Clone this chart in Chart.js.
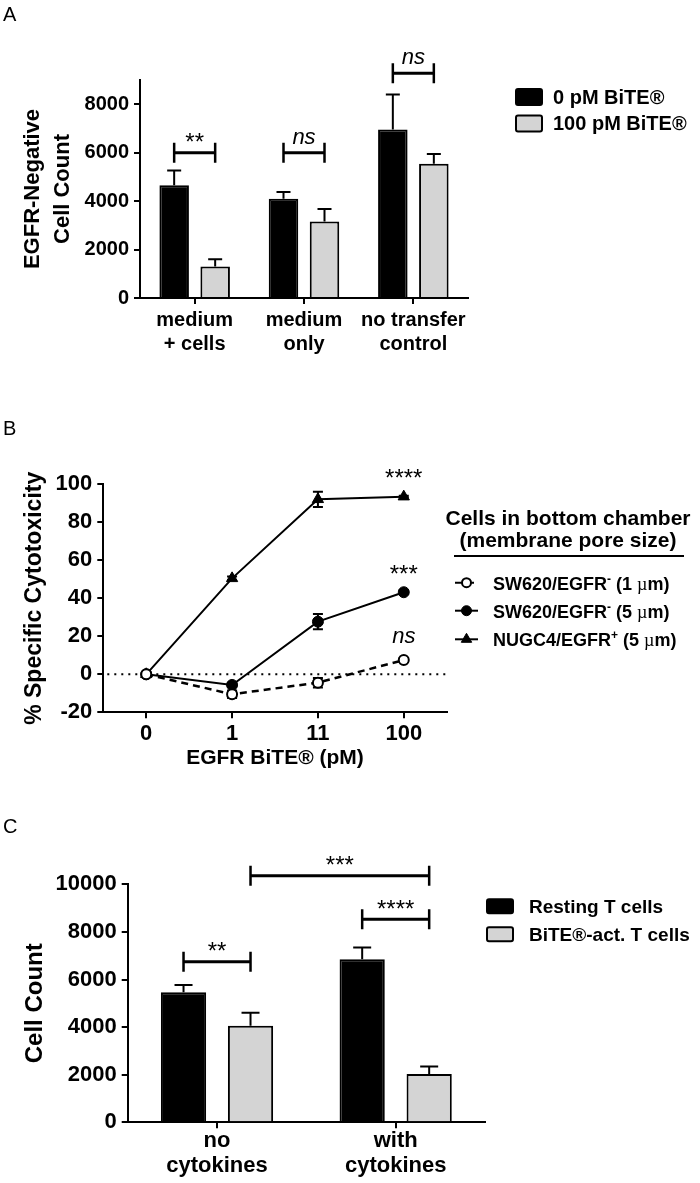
<!doctype html>
<html lang="en">
<head>
<meta charset="utf-8">
<title>EGFR BiTE transwell figure</title>
<script src="https://cdn.jsdelivr.net/npm/chart.js@4.4.1/dist/chart.umd.min.js"></script>
<style>
    body { margin: 0; background: #fff; }
    #page { position: relative; width: 700px; height: 1183px; }
    canvas { position: absolute; left: 0; }
</style>
</head>
<body>
<div id="page">
    <canvas id="chartA" width="700" height="390" style="top:0"></canvas>
    <canvas id="chartB" width="700" height="390" style="top:390px"></canvas>
    <canvas id="chartC" width="700" height="403" style="top:780px"></canvas>
</div>

<script>
// ---- panel A ----
const groupsA = [['medium', '+ cells'], ['medium', 'only'], ['no transfer', 'control']];
const seriesA = ['0 pM BiTE®', '100 pM BiTE®'];
const zeroPmA = [4650, 4100, 6960];
const zeroPmSdA = [610, 280, 1440];
const hundredPmA = [1300, 3160, 5540];
const hundredPmSdA = [300, 510, 410];
const ticksA = [0, 2000, 4000, 6000, 8000];
const sigA = [
    {from: [0, 0], to: [1, 0], y: 6000, text: '**'},
    {from: [0, 1], to: [1, 1], y: 6000, text: 'ns'},
    {from: [0, 2], to: [1, 2], y: 9280, text: 'ns'},
];

// ---- panel B ----
const dosesB = ['0', '1', '11', '100'];
const seriesB = ['SW620/EGFR- (1 µm)', 'SW620/EGFR- (5 µm)', 'NUGC4/EGFR+ (5 µm)'];
const sw1umB = [0, -10.5, -4.4, 7.5];
const sw1umSdB = [1, 2, 2.5, 1];
const sw5umB = [0, -5.6, 27.7, 43.2];
const sw5umSdB = [1, 1, 4, 1];
const nugcB = [0, 50.5, 92.1, 93.5];
const nugcSdB = [1, 1, 4, 0.5];
const ticksB = [-20, 0, 20, 40, 60, 80, 100];
const sigB = [
    {dataset: 0, index: 3, text: 'ns'},
    {dataset: 1, index: 3, text: '***'},
    {dataset: 2, index: 3, text: '****'},
];

// ---- panel C ----
const groupsC = [['no', 'cytokines'], ['with', 'cytokines']];
const seriesC = ['Resting T cells', 'BiTE®-act. T cells'];
const restingC = [5460, 6850];
const restingSdC = [310, 490];
const activatedC = [4060, 2030];
const activatedSdC = [545, 310];
const ticksC = [0, 2000, 4000, 6000, 8000, 10000];
const sigC = [
    {from: [0, 0], to: [1, 0], y: 6750, text: '**'},
    {from: [0, 1], to: [1, 1], y: 8530, text: '****'},
    {from: [1, 0], to: [1, 1], y: 10360, text: '***'},
];

const FONT = "'Liberation Sans', Arial, Helvetica, sans-serif";
const GREY = '#d4d4d4';
Chart.defaults.font.family = FONT;
Chart.defaults.color = '#000';

// draw text so that its ink is centred on (x, cy)
function inkText(ctx, text, x, cy, font) {
    ctx.font = font;
    ctx.textAlign = 'center';
    ctx.textBaseline = 'alphabetic';
    const m = ctx.measureText(text);
    ctx.fillText(text, x, cy + (m.actualBoundingBoxAscent - m.actualBoundingBoxDescent) / 2);
}

function sigFont(text) {
    return text === 'ns' ? 'italic 22px ' + FONT : '24px ' + FONT;
}

const panelLetter = {
    id: 'panelLetter',
    afterDraw(chart, args, opts) {
        if (!opts.text) return;
        const ctx = chart.ctx;
        ctx.save();
        ctx.fillStyle = '#000';
        ctx.font = '20px ' + FONT;
        ctx.textAlign = 'left';
        ctx.textBaseline = 'alphabetic';
        ctx.fillText(opts.text, opts.x, opts.y);
        ctx.restore();
    }
};

const errorBars = {
    id: 'errorBars',
    draw(chart, opts) {
        const ctx = chart.ctx, y = chart.scales.y;
        chart.data.datasets.forEach((ds, i) => {
            if (!ds.sd) return;
            const meta = chart.getDatasetMeta(i);
            ctx.save();
            ctx.strokeStyle = '#000';
            ctx.lineWidth = opts.width;
            meta.data.forEach((el, j) => {
                const v = ds.data[j], e = ds.sd[j];
                const top = y.getPixelForValue(v + e);
                const bottom = opts.both ? y.getPixelForValue(v - e) : el.y;
                ctx.beginPath();
                ctx.moveTo(el.x, top);
                ctx.lineTo(el.x, bottom);
                ctx.moveTo(el.x - opts.cap, top);
                ctx.lineTo(el.x + opts.cap, top);
                if (opts.both) {
                    ctx.moveTo(el.x - opts.cap, bottom);
                    ctx.lineTo(el.x + opts.cap, bottom);
                }
                ctx.stroke();
            });
            ctx.restore();
        });
    },
    beforeDatasetsDraw(chart, args, opts) {
        if (opts.cap && opts.behind) this.draw(chart, opts);
    },
    afterDatasetsDraw(chart, args, opts) {
        if (opts.cap && !opts.behind) this.draw(chart, opts);
    }
};

const sigBrackets = {
    id: 'sigBrackets',
    afterDraw(chart, args, opts) {
        if (!opts.items) return;
        const ctx = chart.ctx, y = chart.scales.y;
        ctx.save();
        ctx.strokeStyle = '#000';
        ctx.fillStyle = '#000';
        opts.items.forEach(b => {
            const x1 = chart.getDatasetMeta(b.from[0]).data[b.from[1]].x;
            const x2 = chart.getDatasetMeta(b.to[0]).data[b.to[1]].x;
            const py = y.getPixelForValue(b.y);
            ctx.lineWidth = 3;
            ctx.beginPath();
            ctx.moveTo(x1, py);
            ctx.lineTo(x2, py);
            ctx.stroke();
            ctx.lineWidth = 2.5;
            ctx.beginPath();
            ctx.moveTo(x1, py - 10);
            ctx.lineTo(x1, py + 10);
            ctx.moveTo(x2, py - 10);
            ctx.lineTo(x2, py + 10);
            ctx.stroke();
            inkText(ctx, b.text, (x1 + x2) / 2, py - 15, sigFont(b.text));
        });
        ctx.restore();
    }
};

const pointLabels = {
    id: 'pointLabels',
    afterDraw(chart, args, opts) {
        if (!opts.items) return;
        const ctx = chart.ctx;
        ctx.save();
        ctx.fillStyle = '#000';
        opts.items.forEach(p => {
            const el = chart.getDatasetMeta(p.dataset).data[p.index];
            inkText(ctx, p.text, el.x, el.y - 23, sigFont(p.text));
        });
        ctx.restore();
    }
};

const zeroLine = {
    id: 'zeroLine',
    beforeDatasetsDraw(chart, args, opts) {
        if (!opts.on) return;
        const ctx = chart.ctx, area = chart.chartArea;
        const py = chart.scales.y.getPixelForValue(0);
        ctx.save();
        ctx.strokeStyle = '#000';
        ctx.lineWidth = 2;
        ctx.setLineDash([2, 5]);
        ctx.beginPath();
        ctx.moveTo(area.left + 4, py);
        ctx.lineTo(area.right, py);
        ctx.stroke();
        ctx.restore();
    }
};

const boxLegend = {
    id: 'boxLegend',
    afterDraw(chart, args, opts) {
        if (!opts.rows) return;
        const ctx = chart.ctx;
        ctx.save();
        chart.data.datasets.forEach((ds, i) => {
            const cy = opts.rows[i];
            ctx.fillStyle = ds.backgroundColor;
            ctx.strokeStyle = '#000';
            ctx.lineWidth = 2;
            ctx.beginPath();
            ctx.roundRect(opts.x, cy - opts.h / 2, opts.w, opts.h, 2);
            ctx.fill();
            ctx.stroke();
            ctx.fillStyle = '#000';
            ctx.font = 'bold ' + opts.size + 'px ' + FONT;
            ctx.textAlign = 'left';
            ctx.textBaseline = 'middle';
            ctx.fillText(ds.label, opts.textX, cy + 1);
        });
        ctx.restore();
    }
};

// legend of panel B: title, underline, then line + marker + rich text per series
const lineLegend = {
    id: 'lineLegend',
    afterDraw(chart, args, opts) {
        if (!opts.rows) return;
        const ctx = chart.ctx;
        ctx.save();
        ctx.fillStyle = '#000';
        ctx.strokeStyle = '#000';
        inkText(ctx, 'Cells in bottom chamber', opts.titleX, opts.titleY[0], 'bold 21px ' + FONT);
        inkText(ctx, '(membrane pore size)', opts.titleX, opts.titleY[1], 'bold 21px ' + FONT);
        ctx.lineWidth = 2;
        ctx.beginPath();
        ctx.moveTo(opts.ruleX[0], opts.ruleY);
        ctx.lineTo(opts.ruleX[1], opts.ruleY);
        ctx.stroke();
        chart.data.datasets.forEach((ds, i) => {
            const cy = opts.rows[i];
            ctx.save();
            ctx.lineWidth = 2;
            ctx.setLineDash(ds.borderDash || []);
            ctx.beginPath();
            ctx.moveTo(opts.x, cy);
            ctx.lineTo(opts.x + 23, cy);
            ctx.stroke();
            ctx.restore();
            ctx.fillStyle = ds.pointBackgroundColor;
            ctx.strokeStyle = '#000';
            ctx.lineWidth = ds.pointBorderWidth;
            Chart.helpers.drawPoint(ctx, {pointStyle: ds.pointStyle, radius: ds.pointRadius - 0.5, borderWidth: ds.pointBorderWidth, rotation: 0}, opts.x + 11.5, cy);
            // text runs
            let x = opts.textX;
            ctx.fillStyle = '#000';
            ctx.textAlign = 'left';
            ctx.textBaseline = 'alphabetic';
            opts.runs[i].forEach(r => {
                ctx.font = r[1];
                ctx.fillText(r[0], x, cy + 7 - (r[2] || 0));
                x += ctx.measureText(r[0]).width;
            });
        });
        ctx.restore();
    }
};

Chart.register(panelLetter, errorBars, sigBrackets, pointLabels, zeroLine, boxLegend, lineLegend);

function axisStyle(size, pad) {
    return {
        grid: {display: true, drawOnChartArea: false, offset: false, color: '#000', lineWidth: 2, tickLength: 6},
        border: {display: true, color: '#000', width: 2},
        ticks: {color: '#000', font: {size: size, weight: 'bold', lineHeight: 1.15}, padding: pad, maxRotation: 0, autoSkip: false},
    };
}

function titleStyle(text, size, lineHeight, pad) {
    return {display: true, text: text, color: '#000', font: {size: size, weight: 'bold', lineHeight: lineHeight}, padding: pad};
}

const plainNumber = v => String(v);

// ---------------- A ----------------
const xA = axisStyle(20, 4);
xA.ticks.font.lineHeight = 1.2;
xA.afterFit = s => { s.height = 92; };
const yA = axisStyle(20, 5);
yA.min = 0;
yA.max = 9000;
yA.ticks.callback = plainNumber;
yA.afterBuildTicks = s => { s.ticks = ticksA.map(v => ({value: v})); };
yA.afterFit = s => { s.width = 140; };
yA.title = titleStyle(['EGFR-Negative', 'Cell Count'], 22, 30 / 22, {top: 18, bottom: 0});

new Chart(document.getElementById('chartA'), {
    type: 'bar',
    data: {
        labels: groupsA,
        datasets: [
            {label: seriesA[0], data: zeroPmA, sd: zeroPmSdA, backgroundColor: '#000', borderColor: '#000', borderWidth: 2, categoryPercentage: 0.75, barPercentage: 0.72},
            {label: seriesA[1], data: hundredPmA, sd: hundredPmSdA, backgroundColor: GREY, borderColor: '#000', borderWidth: 2, categoryPercentage: 0.75, barPercentage: 0.72},
        ],
    },
    options: {
        responsive: false,
        animation: false,
        events: [],
        layout: {padding: {top: 80, right: 232, left: 0, bottom: 0}},
        plugins: {
            legend: {display: false},
            tooltip: {enabled: false},
            panelLetter: {text: 'A', x: 3, y: 21},
            errorBars: {cap: 7, width: 2},
            sigBrackets: {items: sigA},
            boxLegend: {rows: [97, 123.5], x: 516, w: 26, h: 16, textX: 553, size: 20},
        },
        scales: {x: xA, y: yA},
    },
});

// ---------------- B ----------------
const xB = axisStyle(22, 3);
xB.offset = true;
xB.afterFit = s => { s.height = 67.7; };
xB.title = titleStyle('EGFR BiTE® (pM)', 21, 1.2, {top: 0, bottom: 9});
const yB = axisStyle(22, 5);
yB.min = -20;
yB.max = 100;
yB.ticks.callback = plainNumber;
yB.afterBuildTicks = s => { s.ticks = ticksB.map(v => ({value: v})); };
yB.afterFit = s => { s.width = 103.3; };
yB.title = titleStyle('% Specific Cytotoxicity', 23, 1.2, {top: 21, bottom: 0});

const bold18 = 'bold 18px ' + FONT;
const sup12 = 'bold 12px ' + FONT;
const mu18 = '18px "Liberation Serif", "DejaVu Serif", serif';

new Chart(document.getElementById('chartB'), {
    type: 'line',
    data: {
        labels: dosesB,
        datasets: [
            {label: seriesB[0], data: sw1umB, sd: sw1umSdB, borderColor: '#000', borderWidth: 2.5, borderDash: [7, 5],
                pointStyle: 'circle', pointRadius: 5, pointBorderWidth: 2, pointBackgroundColor: '#fff', pointBorderColor: '#000'},
            {label: seriesB[1], data: sw5umB, sd: sw5umSdB, borderColor: '#000', borderWidth: 2,
                pointStyle: 'circle', pointRadius: 5.5, pointBorderWidth: 1, pointBackgroundColor: '#000', pointBorderColor: '#000'},
            {label: seriesB[2], data: nugcB, sd: nugcSdB, borderColor: '#000', borderWidth: 2,
                pointStyle: 'triangle', pointRadius: 6.5, pointBorderWidth: 1, pointBackgroundColor: '#000', pointBorderColor: '#000'},
        ],
    },
    options: {
        responsive: false,
        animation: false,
        events: [],
        layout: {padding: {top: 94.3, right: 253.3, left: 0, bottom: 0}},
        plugins: {
            legend: {display: false},
            tooltip: {enabled: false},
            panelLetter: {text: 'B', x: 3, y: 45},
            errorBars: {cap: 5, width: 2, both: true, behind: true},
            zeroLine: {on: true},
            pointLabels: {items: sigB},
            lineLegend: {
                titleX: 568, titleY: [127, 151.7], ruleX: [454, 684], ruleY: 166,
                rows: [192.7, 220.7, 249.3], x: 455, textX: 493,
                runs: [
                    [['SW620/EGFR', bold18], ['-', sup12, 7], [' (1 ', bold18], ['µ', mu18], ['m)', bold18]],
                    [['SW620/EGFR', bold18], ['-', sup12, 7], [' (5 ', bold18], ['µ', mu18], ['m)', bold18]],
                    [['NUGC4/EGFR', bold18], ['+', sup12, 7], [' (5 ', bold18], ['µ', mu18], ['m)', bold18]],
                ],
            },
        },
        scales: {x: xB, y: yB},
    },
});

// ---------------- C ----------------
const xC = axisStyle(22, 0);
xC.afterFit = s => { s.height = 60.7; };
const yC = axisStyle(22, 5);
yC.min = 0;
yC.max = 10000;
yC.ticks.callback = plainNumber;
yC.afterBuildTicks = s => { s.ticks = ticksC.map(v => ({value: v})); };
yC.afterFit = s => { s.width = 127.7; };
yC.title = titleStyle('Cell Count', 24, 1.2, {top: 21, bottom: 0});

new Chart(document.getElementById('chartC'), {
    type: 'bar',
    data: {
        labels: groupsC,
        datasets: [
            {label: seriesC[0], data: restingC, sd: restingSdC, backgroundColor: '#000', borderColor: '#000', borderWidth: 2, categoryPercentage: 0.75, barPercentage: 0.675},
            {label: seriesC[1], data: activatedC, sd: activatedSdC, backgroundColor: GREY, borderColor: '#000', borderWidth: 2, categoryPercentage: 0.75, barPercentage: 0.675},
        ],
    },
    options: {
        responsive: false,
        animation: false,
        events: [],
        layout: {padding: {top: 104.3, right: 215, left: 0, bottom: 0}},
        plugins: {
            legend: {display: false},
            tooltip: {enabled: false},
            panelLetter: {text: 'C', x: 3, y: 53},
            errorBars: {cap: 9, width: 2},
            sigBrackets: {items: sigC},
            boxLegend: {rows: [126.3, 154.3], x: 487, w: 26, h: 14, textX: 529, size: 19},
        },
        scales: {x: xC, y: yC},
    },
});
</script>
</body>
</html>
